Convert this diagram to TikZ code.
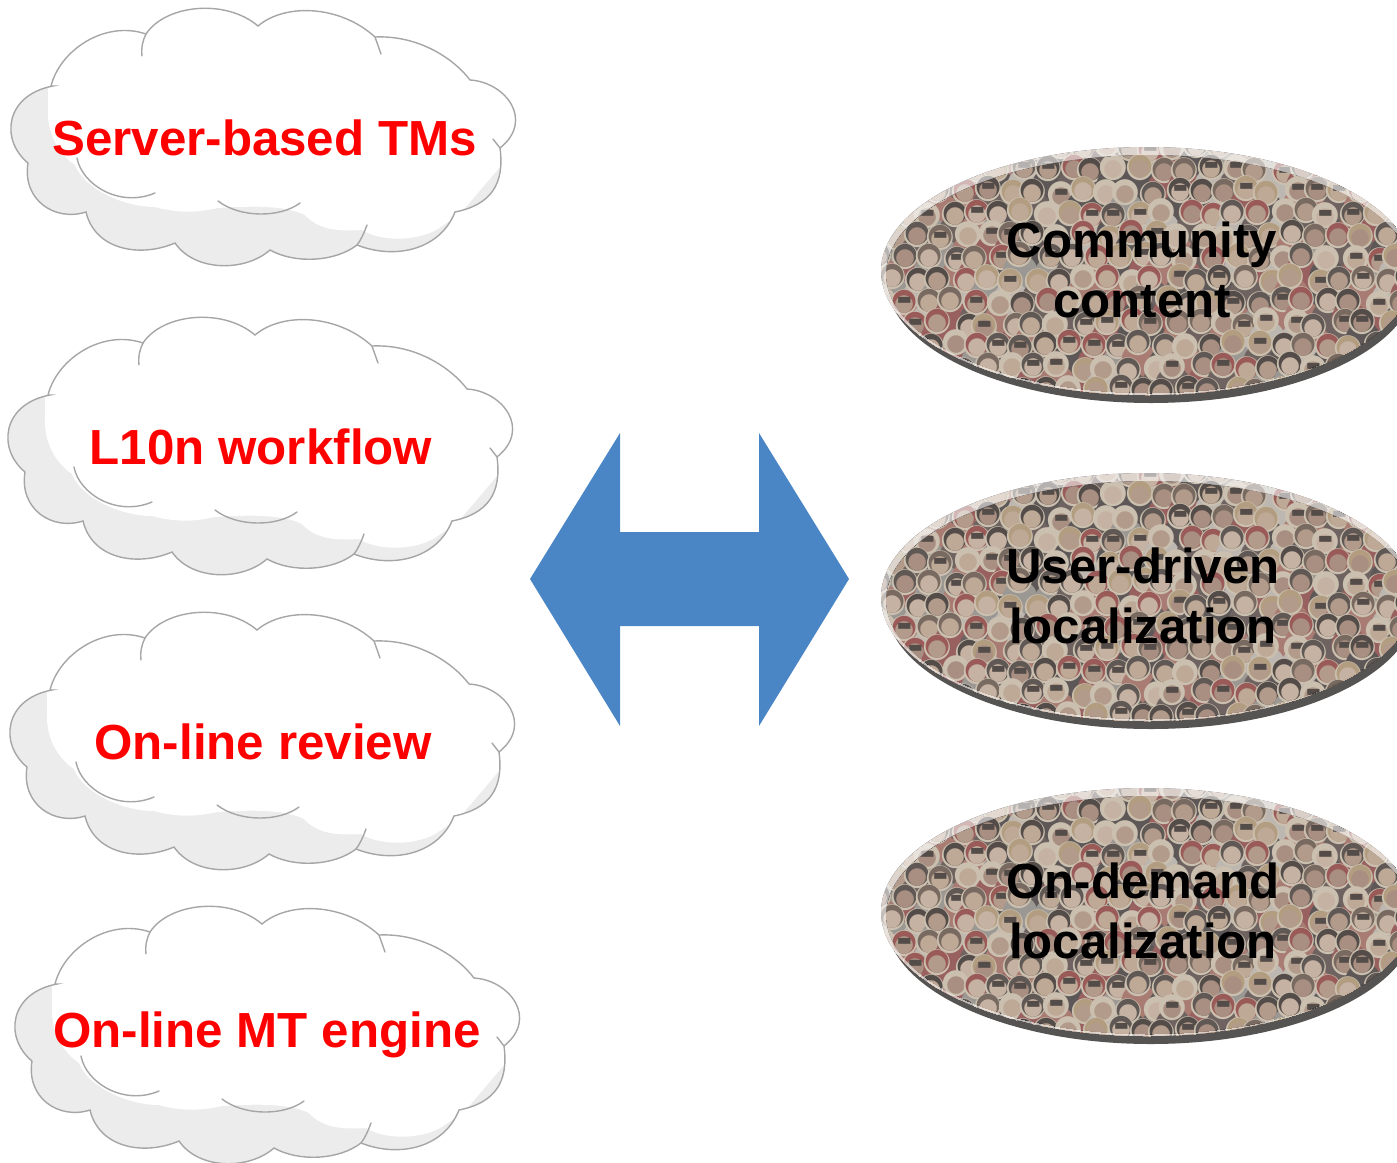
\documentclass[tikz,border=0pt]{standalone}
\usepackage{fontspec}
\setmainfont{Liberation Sans}
\definecolor{cloudline}{HTML}{A6A6A6}
\definecolor{cloudshade}{HTML}{ECECEC}
\definecolor{arrowblue}{HTML}{4A85C5}
\definecolor{shadowgrey}{HTML}{565453}
\definecolor{crowdbase}{HTML}{5F5450}
\definecolor{bodyc0}{HTML}{8A4A48}\definecolor{bodyc1}{HTML}{474240}\definecolor{bodyc2}{HTML}{8E8A86}
\definecolor{bodyc3}{HTML}{9E6A60}\definecolor{bodyc4}{HTML}{B5AEA8}\definecolor{bodyc5}{HTML}{5A4E4A}
\definecolor{hairc0}{HTML}{3C3430}\definecolor{hairc1}{HTML}{66564A}\definecolor{hairc2}{HTML}{A89070}
\definecolor{hairc3}{HTML}{8C4442}\definecolor{hairc4}{HTML}{C4B8A4}\definecolor{hairc5}{HTML}{4A423E}
\definecolor{facec0}{HTML}{A88E7C}\definecolor{facec1}{HTML}{B69C88}\definecolor{facec2}{HTML}{9C8070}
\definecolor{facec3}{HTML}{BFA896}
\font\fBody="DejaVu Sans" at 46pt
\font\fHalo="DejaVu Sans" at 34pt
\font\fHair="DejaVu Sans" at 30pt
\font\fFace="DejaVu Sans" at 23pt
\font\fBar="DejaVu Sans" at 16pt
\tikzset{
  cloudedge/.style={draw=cloudline,line width=1.4pt,line cap=round},
  cloudtext/.style={text=red,font=\bfseries\fontsize{49.3}{60}\selectfont,inner sep=0pt},
  ovaltext/.style={text=black,font=\bfseries\fontsize{49.2}{60}\selectfont,align=center,inner sep=0pt}
}
\newcommand{\cloudoutline}{(51,86) .. controls (60,50) and (105,20) .. (146,34)
  .. controls (165,5) and (225,-2) .. (258,26)
  .. controls (285,3) and (340,5) .. (375,37)
  .. controls (420,35) and (455,60) .. (470,80)
  .. controls (505,82) and (535,120) .. (500,148)
  .. controls (505,185) and (490,205) .. (455,212)
  .. controls (440,250) and (395,260) .. (357,245)
  .. controls (335,262) and (295,264) .. (270,250)
  .. controls (245,272) and (195,272) .. (175,243)
  .. controls (140,258) and (95,250) .. (86,212)
  .. controls (55,222) and (22,200) .. (28,163)
  .. controls (0,140) and (5,95) .. (53,86) -- cycle}
\newcommand{\cloudat}[2]{%
  \begin{scope}[shift={(#1,#2)}]
    \fill[cloudshade] \cloudoutline;
    \begin{scope}
      \clip \cloudoutline;
      \fill[white] (48,0) -- (48,110) .. controls (47,135) and (60,155) .. (75,165)
        .. controls (85,190) and (125,207) .. (155,207)
        .. controls (180,214) and (200,212) .. (218,208)
        .. controls (250,206) and (285,205) .. (305,215)
        .. controls (320,232) and (345,231) .. (362,230)
        .. controls (385,244) and (425,240) .. (442,226)
        -- (460,214) -- (540,120) -- (540,0) -- cycle;
    \end{scope}
    \draw[cloudedge] \cloudoutline;
    \draw[cloudedge] (142,56) .. controls (141,47) and (143,40) .. (146,34);
    \draw[cloudedge] (375,37) -- (381,54);
    \draw[cloudedge] (493,139) -- (500,148);
    \draw[cloudedge] (367,225) .. controls (364,233) and (361,240) .. (357,245);
    \draw[cloudedge] (77,158) .. controls (82,185) and (120,208) .. (155,193);
    \draw[cloudedge] (218,201) .. controls (240,218) and (280,218) .. (300,203);
  \end{scope}}
% a glyph placed with its centre at (x,y) from the box origin, y downwards
\newcommand{\blob}[6]{% font, char, half width (em), centre height (em), x, y
  \rlap{\kern#5pt\raise\dimexpr-#6pt-#4\fontdimen6#1\relax\hbox{\kern-#3\fontdimen6#1\relax#1\char"#2\relax}}}
\newcommand{\crowdhead}[2]{%
  \pgfmathrandominteger{\rb}{0}{5}\pgfmathrandominteger{\rh}{0}{5}\pgfmathrandominteger{\rf}{0}{3}%
  \pgfmathrandominteger{\rg}{0}{2}%
  \pgfmathrandominteger{\jx}{-4}{4}\pgfmathrandominteger{\jy}{-3}{3}%
  \edef\px{\the\numexpr#1+\jx\relax}\edef\py{\the\numexpr#2+\jy\relax}%
  {\color{bodyc\rb}\blob{\fBody}{25CF}{.385}{.37}{\px}{\the\numexpr\py+15\relax}}%
  {\color{hairc4}\blob{\fHalo}{25CF}{.385}{.37}{\px}{\the\numexpr\py-1\relax}}%
  {\color{hairc\rh}\blob{\fHair}{25CF}{.385}{.37}{\px}{\the\numexpr\py-2\relax}}%
  {\color{facec\rf}\blob{\fFace}{25CF}{.385}{.37}{\px}{\the\numexpr\py+2\relax}}%
  \ifnum\rg=0 {\color{hairc0}\blob{\fBar}{25AC}{.385}{.3}{\px}{\py}}\fi}
\newcommand{\crowd}[1]{% top of the picture area in y = #1
  \pgfmathsetseed{4711}%
  \fill[crowdbase] (870,#1-10) rectangle (1420,#1+270);
  \pgftext[left,base,at={\pgfqpoint{870pt}{-#1pt}}]{\hbox to 0pt{%
    \foreach \row in {0,...,12}{%
      \foreach \col in {0,...,23}{%
        \pgfmathtruncatemacro{\hx}{\col*23.5+int(mod(\row,2))*11.5}%
        \pgfmathtruncatemacro{\hy}{\row*22}%
        \crowdhead{\hx}{\hy}%
      }}\hss}};}
\newcommand{\ovalat}[1]{%
  \begin{scope}[shift={(0,#1)}]
    \fill[shadowgrey] (1151,279) ellipse (265 and 124);
    \begin{scope}
      \clip (1147,271) ellipse (266 and 124);
      \crowd{145}
      \fill[white,opacity=.62] (870,140) rectangle (1420,410);
    \end{scope}
    \begin{scope}
      \clip (1149,274) ellipse (263 and 119);
      \crowd{145}
      \fill[white,opacity=.12] (870,140) rectangle (1420,410);
    \end{scope}
  \end{scope}}
\begin{document}
\begin{tikzpicture}[x=1pt,y=-1pt]
\useasboundingbox (0,0) rectangle (1397,1162);
\begin{scope}
\clip (0,0) rectangle (1397,1162);
\cloudat{0}{0}
\cloudat{-3}{309}
\cloudat{-1}{604}
\cloudat{4}{898}
\node[cloudtext] (tms) at (264.5,138) {Server-based TMs};
\node[cloudtext] (wf) at (261,447) {L10n workflow};
\node[cloudtext] (rev) at (263,742) {On-line review};
\node[cloudtext] (mt) at (267,1035) {On-line MT engine};
\fill[arrowblue] (530,579) -- (620,433) -- (620,532) -- (759,532) -- (759,433)
  -- (849,579) -- (759,726) -- (759,626) -- (620,626) -- (620,726) -- cycle;
\ovalat{0}
\ovalat{326}
\ovalat{641}
\node[ovaltext] (comm) at (1142,270) {Community\\content};
\node[ovaltext] (user) at (1143,596) {User-driven\\localization};
\node[ovaltext] (demand) at (1143,911) {On-demand\\localization};
\end{scope}
\end{tikzpicture}
\end{document}
